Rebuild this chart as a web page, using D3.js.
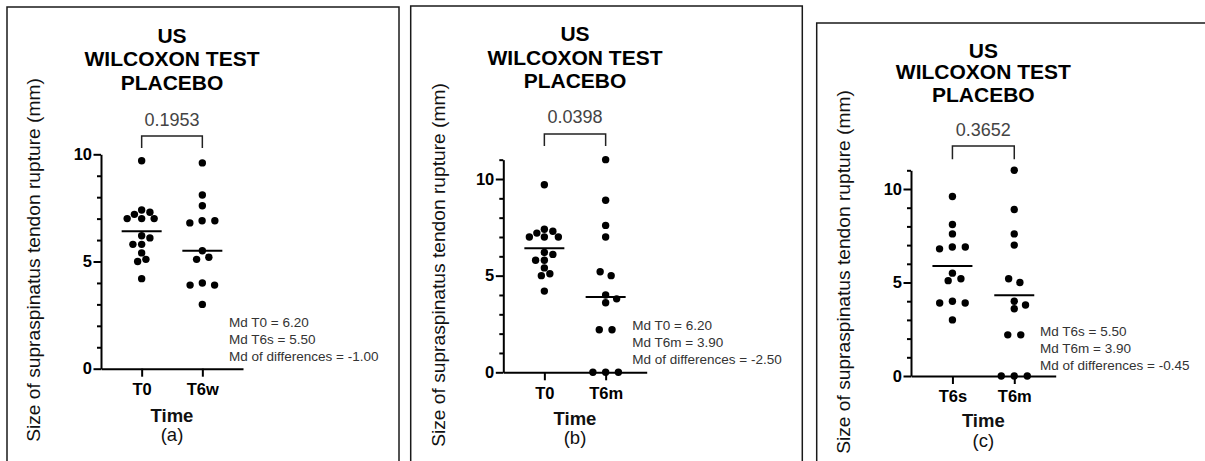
<!DOCTYPE html>
<html>
<head>
<meta charset="utf-8">
<script src="https://cdn.jsdelivr.net/npm/d3@7"></script>
<style>
  body { margin: 0; background: #fff; }
  svg { display: block; }
  text { font-family: "Liberation Sans", Arial, sans-serif; }
</style>
</head>
<body>
<script>
// values (mm)
const t0 = [9.7, 7.4, 7.3, 7.2, 7.0, 7.0, 7.0, 6.2, 6.1, 5.8, 5.8, 5.4, 5.1, 5.0, 4.2];
const t6s = [9.6, 8.1, 7.6, 6.9, 6.9, 6.8, 5.5, 5.2, 5.1, 4.0, 3.9, 3.9, 3.0];
const t6m = [11.0, 8.9, 7.6, 7.0, 5.2, 5.0, 4.0, 3.8, 3.6, 2.2, 2.2, 0, 0, 0];

const panelLetters = ['(a)', '(b)', '(c)'];
const categories = [['T0', 'T6w'], ['T0', 'T6m'], ['T6s', 'T6m']];
const groups = [[t0, t6s], [t0, t6m], [t6s, t6m]];
const lineStats = [['mean', 'median'], ['mean', 'median'], ['mean', 'mean']];
const yMax = [10, 11, 11];
const yTickLabels = [0, 5, 10];
const pValues = ['0.1953', '0.0398', '0.3652'];
const titleLines = ['US', 'WILCOXON TEST', 'PLACEBO'];
const yLabel = 'Size of supraspinatus tendon rupture (mm)';
const xLabel = 'Time';
const notes = [
  ['Md T0 = 6.20', 'Md T6s = 5.50', 'Md of differences = -1.00'],
  ['Md T0 = 6.20', 'Md T6m = 3.90', 'Md of differences = -2.50'],
  ['Md T6s = 5.50', 'Md T6m = 3.90', 'Md of differences = -0.45']
];

// where each of the three pasted figures sits
const layout = [
  {frame: [7, 7, 399], ax: 101, x1: 243, y0: 368.7, y10: 154.3, titleY: [35, 58, 82], pY: 120,
   brTop: 136, brBot: 148, catY: 389, timeY: 415, letterY: 434, ylabX: 33, ylabY: 260,
   noteX: 229, noteY: 322, spread: [8.6, 12.7]},
  {frame: [410.7, 6, 802.3], ax: 503.3, x1: 646.7, y0: 372.3, y10: 179, titleY: [33, 57, 80], pY: 117,
   brTop: 134, brBot: 146, catY: 393, timeY: 418, letterY: 437, ylabX: 438, ylabY: 265,
   noteX: 632.3, noteY: 325, spread: [8.6, 12.7]},
  {frame: [816.7, 23, 1215], ax: 911, x1: 1055.7, y0: 376, y10: 189, titleY: [50, 71.7, 94.3], pY: 130,
   brTop: 146, brBot: 159.3, catY: 396, timeY: 420.7, letterY: 440.7, ylabX: 843, ylabY: 272,
   noteX: 1040, noteY: 331, spread: [13, 13]}
];

const svg = d3.select('body').append('svg')
    .attr('width', 1205)
    .attr('height', 461);

/**
 * spread points sideways so that dots do not sit on top of each other
 */
function swarm(values, y, sx, sy) {
    const pts = values.map(v => ({v: v, y: y(v), dx: 0})).sort((a, b) => a.y - b.y);
    const placed = [];
    pts.forEach(p => {
        for (let m = 0; m < 80; m += 0.25) {
            const hit = [m, -m].find(dx => placed.every(q =>
                ((dx - q.dx) / sx) ** 2 + ((p.y - q.y) / sy) ** 2 >= 0.999));
            if (hit !== undefined) { p.dx = hit; break; }
        }
        placed.push(p);
    });
    // centre runs that form a single row
    let run = [];
    const flush = () => {
        if (run.length > 1 && run[run.length - 1].y - run[0].y < sy) {
            const ext = d3.extent(run, d => d.dx);
            const shift = -(ext[0] + ext[1]) / 2;
            run.forEach(d => { d.dx += shift; });
        }
        run = [];
    };
    pts.forEach(p => {
        if (run.length && p.y - run[run.length - 1].y >= sy) flush();
        run.push(p);
    });
    flush();
    return pts;
}

function drawPanel(i) {
    const L = layout[i];
    const g = svg.append('g');
    const cx = (L.ax + L.x1) / 2;

    g.append('rect')
        .attr('x', L.frame[0])
        .attr('y', L.frame[1])
        .attr('width', L.frame[2] - L.frame[0])
        .attr('height', 520)
        .attr('fill', 'none')
        .attr('stroke', '#1a1a1a')
        .attr('stroke-width', 1.5);

    const unit = (L.y0 - L.y10) / 10;
    const y = d3.scaleLinear()
        .domain([0, yMax[i]])
        .range([L.y0, L.y0 - unit * yMax[i]]);
    const x = d3.scalePoint()
        .domain(categories[i])
        .range([L.ax, L.x1])
        .padding(0.67);

    // y axis
    const ya = g.append('g')
        .attr('transform', `translate(${L.ax},0)`)
        .call(d3.axisLeft(y)
            .tickValues(d3.range(0, yMax[i] + 1))
            .tickSize(4)
            .tickSizeOuter(0)
            .tickPadding(5)
            .tickFormat(d => yTickLabels.includes(d) ? d : ''));
    ya.selectAll('.tick line')
        .attr('x2', d => yTickLabels.includes(d) ? -7.5 : -4);
    ya.selectAll('line, path').attr('stroke', '#000').attr('stroke-width', 2);
    ya.selectAll('text')
        .attr('font-size', 16.5)
        .attr('font-weight', 'bold')
        .attr('fill', '#000');

    // x axis
    const xa = g.append('g')
        .attr('transform', `translate(0,${L.y0})`)
        .call(d3.axisBottom(x).tickSize(8).tickSizeOuter(0));
    xa.selectAll('line, path').attr('stroke', '#000').attr('stroke-width', 2);
    xa.selectAll('text')
        .attr('y', L.catY - L.y0)
        .attr('dy', '0.35em')
        .attr('font-size', 16.5)
        .attr('font-weight', 'bold')
        .attr('fill', '#000');

    // dots and centre lines
    groups[i].forEach((vals, k) => {
        const xc = x(categories[i][k]);
        const pts = swarm(vals, y, L.spread[k], 7.4);
        g.append('g').selectAll('circle')
            .data(pts)
            .enter()
            .append('circle')
            .attr('cx', d => xc + d.dx)
            .attr('cy', d => d.y)
            .attr('r', 3.7)
            .attr('fill', '#000');
        const c = lineStats[i][k] === 'mean' ? d3.mean(vals) : d3.median(vals);
        g.append('line')
            .attr('x1', xc - 20)
            .attr('x2', xc + 20)
            .attr('y1', y(c))
            .attr('y2', y(c))
            .attr('stroke', '#000')
            .attr('stroke-width', 2);
    });

    // p-value bracket
    const xa0 = x(categories[i][0]);
    const xa1 = x(categories[i][1]);
    g.append('path')
        .attr('d', `M${xa0},${L.brBot}V${L.brTop}H${xa1}V${L.brBot}`)
        .attr('fill', 'none')
        .attr('stroke', '#222')
        .attr('stroke-width', 1.5);
    g.append('text')
        .attr('x', cx)
        .attr('y', L.pY)
        .attr('text-anchor', 'middle')
        .attr('dominant-baseline', 'central')
        .attr('font-size', 18)
        .attr('fill', '#444')
        .text(pValues[i]);

    // title
    g.append('g').selectAll('text')
        .data(titleLines)
        .enter()
        .append('text')
        .attr('x', cx)
        .attr('y', (d, j) => L.titleY[j])
        .attr('text-anchor', 'middle')
        .attr('dominant-baseline', 'central')
        .attr('font-size', 21)
        .attr('font-weight', 'bold')
        .attr('fill', '#000')
        .text(d => d);

    // axis titles
    g.append('text')
        .attr('transform', `translate(${L.ylabX},${L.ylabY}) rotate(-90)`)
        .attr('text-anchor', 'middle')
        .attr('dominant-baseline', 'central')
        .attr('font-size', 19.2)
        .attr('fill', '#111')
        .text(yLabel);
    g.append('text')
        .attr('x', cx)
        .attr('y', L.timeY)
        .attr('text-anchor', 'middle')
        .attr('dominant-baseline', 'central')
        .attr('font-size', 18.5)
        .attr('font-weight', 'bold')
        .attr('fill', '#111')
        .text(xLabel);
    g.append('text')
        .attr('x', cx)
        .attr('y', L.letterY)
        .attr('text-anchor', 'middle')
        .attr('dominant-baseline', 'central')
        .attr('font-size', 18.5)
        .attr('fill', '#111')
        .text(panelLetters[i]);

    // medians note
    g.append('g').selectAll('text')
        .data(notes[i])
        .enter()
        .append('text')
        .attr('x', L.noteX)
        .attr('y', (d, j) => L.noteY + j * 17)
        .attr('dominant-baseline', 'central')
        .attr('font-size', 13.5)
        .attr('fill', '#333')
        .text(d => d);
}

d3.range(3).forEach(drawPanel);
</script>
</body>
</html>
